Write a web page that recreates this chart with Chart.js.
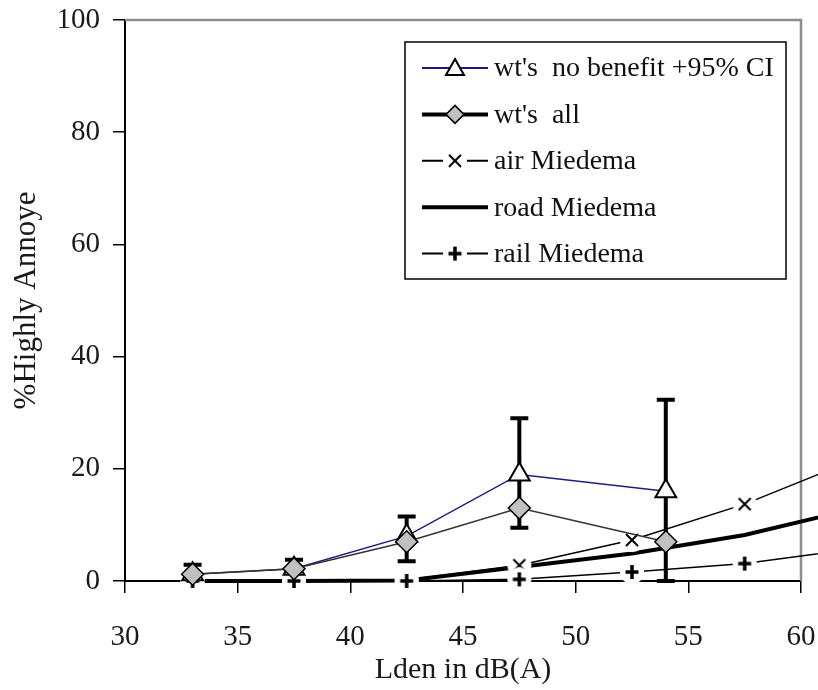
<!DOCTYPE html>
<html>
<head>
<meta charset="utf-8">
<script src="https://cdn.jsdelivr.net/npm/chart.js@4.4.1/dist/chart.umd.min.js"></script>
<style>
  html, body { margin: 0; padding: 0; background: #fff; }
</style>
</head>
<body>
<canvas id="chart" width="818" height="690"></canvas>
<script>
// values
const xWt = [33, 37.5, 42.5, 47.5, 54];
const noBenefit = [1.2, 2.2, 8, 19, 16];
const ciLow = [0, 0.8, 3.5, 9.5, 0];
const ciHigh = [2.9, 3.8, 11.5, 29, 32.3];
const wtAll = [1.2, 2.2, 7, 13, 7];

const xMiedema = [33, 37.5, 42.5, 47.5, 52.5, 57.5, 62.5];
const airMiedema = [0, 0, 0.2, 2.8, 7.3, 13.7, 21.8];
const roadMiedema = [0, 0, 0.1, 2.5, 4.9, 8.2, 13.0];
const railMiedema = [0, 0, 0, 0.3, 1.6, 3.1, 5.8];

const xTicks = [30, 35, 40, 45, 50, 55, 60];
const yTicks = [0, 20, 40, 60, 80, 100];
const legendNames = ["wt's  no benefit +95% CI", "wt's  all", "air Miedema", "road Miedema", "rail Miedema"];

const serif = "'Liberation Serif', 'Times New Roman', serif";
Chart.defaults.font.family = serif;
Chart.defaults.color = "#1a1a1a";

const pts = (xs, ys) => xs.map((x, i) => ({ x: x, y: ys[i] }));

// marker with a white patch round it, so the line breaks at the marker
function markCanvas(kind) {
  const c = document.createElement("canvas");
  c.width = 26; c.height = 26;
  const g = c.getContext("2d");
  g.fillStyle = "#fff";
  g.beginPath(); g.arc(13, 13, 12, 0, Math.PI * 2); g.fill();
  g.strokeStyle = "#000";
  g.beginPath();
  if (kind === "plus") {
    g.lineWidth = 3.5;
    g.moveTo(13, 6); g.lineTo(13, 20);
    g.moveTo(6.5, 13); g.lineTo(19.5, 13);
  } else {
    g.lineWidth = 2;
    g.moveTo(7, 7); g.lineTo(19, 19);
    g.moveTo(19, 7); g.lineTo(7, 19);
  }
  g.stroke();
  return c;
}
const crossMark = markCanvas("cross");
const plusMark = markCanvas("plus");

const extras = {
  id: "extras",
  beforeDatasetsDraw(chart) {
    const { ctx, chartArea: a, scales: { x, y } } = chart;
    ctx.save();
    // grey frame top + right
    ctx.strokeStyle = "#8c8c8c";
    ctx.lineWidth = 2.5;
    ctx.beginPath();
    ctx.moveTo(a.left, a.top); ctx.lineTo(a.right, a.top); ctx.lineTo(a.right, a.bottom);
    ctx.stroke();
    // 95% CI bars
    ctx.strokeStyle = "#000";
    ctx.lineWidth = 4;
    xWt.forEach((v, i) => {
      const px = x.getPixelForValue(v);
      const t = y.getPixelForValue(ciHigh[i]);
      const b = y.getPixelForValue(ciLow[i]);
      ctx.beginPath();
      ctx.moveTo(px, t); ctx.lineTo(px, b);
      ctx.moveTo(px - 9, t); ctx.lineTo(px + 9, t);
      ctx.moveTo(px - 9, b); ctx.lineTo(px + 9, b);
      ctx.stroke();
    });
    ctx.restore();
  },
  afterDraw(chart) {
    const ctx = chart.ctx;
    const bx = 405, by = 42, bw = 381, bh = 237;
    ctx.save();
    ctx.fillStyle = "#fff";
    ctx.fillRect(bx, by, bw, bh);
    ctx.strokeStyle = "#000";
    ctx.lineWidth = 1.5;
    ctx.strokeRect(bx, by, bw, bh);

    const x0 = 422, x1 = 488, xm = 455, tx = 494;
    legendNames.forEach((name, i) => {
      const yy = 68 + i * 46.4;
      ctx.strokeStyle = "#000";
      if (i === 0) {
        ctx.strokeStyle = "#1c1c80"; ctx.lineWidth = 2;
        ctx.beginPath(); ctx.moveTo(x0, yy); ctx.lineTo(x1, yy); ctx.stroke();
        ctx.fillStyle = "#fff"; ctx.strokeStyle = "#000"; ctx.lineWidth = 2;
        ctx.beginPath(); ctx.moveTo(xm, yy - 9); ctx.lineTo(xm + 9, yy + 7); ctx.lineTo(xm - 9, yy + 7); ctx.closePath();
        ctx.fill(); ctx.stroke();
      } else if (i === 1) {
        ctx.lineWidth = 4;
        ctx.beginPath(); ctx.moveTo(x0, yy); ctx.lineTo(x1, yy); ctx.stroke();
        ctx.fillStyle = "#c0c0c0"; ctx.lineWidth = 1.5;
        ctx.beginPath(); ctx.moveTo(xm, yy - 9); ctx.lineTo(xm + 9, yy); ctx.lineTo(xm, yy + 9); ctx.lineTo(xm - 9, yy); ctx.closePath();
        ctx.fill(); ctx.stroke();
      } else if (i === 3) {
        ctx.lineWidth = 4;
        ctx.beginPath(); ctx.moveTo(x0, yy); ctx.lineTo(x1, yy); ctx.stroke();
      } else {
        ctx.lineWidth = 2;
        ctx.beginPath(); ctx.moveTo(x0, yy); ctx.lineTo(xm - 11, yy); ctx.moveTo(xm + 11, yy); ctx.lineTo(x1, yy); ctx.stroke();
        ctx.drawImage(i === 2 ? crossMark : plusMark, xm - 13, yy - 13);
      }
      ctx.fillStyle = "#111";
      ctx.font = "28px " + serif;
      ctx.textBaseline = "middle";
      ctx.textAlign = "left";
      ctx.fillText(name, tx, yy + 1);
    });
    ctx.restore();
  }
};

new Chart(document.getElementById("chart"), {
  type: "line",
  data: {
    datasets: [
      {
        label: legendNames[1],
        data: pts(xWt, wtAll),
        borderColor: "#333",
        borderWidth: 1.5,
        pointStyle: "rectRot",
        pointRadius: 11,
        pointBackgroundColor: "#c0c0c0",
        pointBorderColor: "#000",
        pointBorderWidth: 1.5,
        clip: false
      },
      {
        label: legendNames[0],
        data: pts(xWt, noBenefit),
        borderColor: "#1c1c80",
        borderWidth: 1.5,
        pointStyle: "triangle",
        pointRadius: 12,
        pointBackgroundColor: "#fff",
        pointBorderColor: "#000",
        pointBorderWidth: 2,
        clip: false
      },
      {
        label: legendNames[4],
        data: pts(xMiedema, railMiedema),
        borderColor: "#000",
        borderWidth: 1.5,
        pointStyle: plusMark,
        clip: false
      },
      {
        label: legendNames[2],
        data: pts(xMiedema, airMiedema),
        borderColor: "#000",
        borderWidth: 1.5,
        pointStyle: crossMark,
        clip: false
      },
      {
        label: legendNames[3],
        data: pts(xMiedema, roadMiedema),
        borderColor: "#000",
        borderWidth: 4,
        pointRadius: 0,
        clip: false
      }
    ]
  },
  options: {
    responsive: false,
    devicePixelRatio: 1,
    animation: false,
    layout: { padding: { left: 0, right: 17, top: 20, bottom: 0 } },
    plugins: {
      legend: { display: false },
      tooltip: { enabled: false }
    },
    scales: {
      x: {
        type: "linear",
        min: 30,
        max: 60,
        afterBuildTicks: (s) => { s.ticks = xTicks.map((v) => ({ value: v })); },
        afterFit: (s) => {
          s.height = 109;
          s.paddingLeft = 0; s.paddingRight = 0;
        },
        ticks: { font: { size: 29 }, padding: 27, color: "#1a1a1a", maxRotation: 0 },
        grid: { drawOnChartArea: false, tickLength: 12, color: "#000", lineWidth: 1.5 },
        border: { color: "#000", width: 2 },
        title: { display: true, text: "Lden in dB(A)", font: { size: 30 }, color: "#1a1a1a", padding: { top: 0, bottom: 2 } }
      },
      y: {
        min: 0,
        max: 100,
        afterBuildTicks: (s) => { s.ticks = yTicks.map((v) => ({ value: v })); },
        afterFit: (s) => {
          s.width = 125;
          s.paddingTop = 0; s.paddingBottom = 0;
        },
        ticks: { font: { size: 29 }, padding: 13, color: "#1a1a1a" },
        grid: { drawOnChartArea: false, tickLength: 12, color: "#000", lineWidth: 1.5 },
        border: { color: "#000", width: 2 },
        title: { display: true, text: "%Highly Annoye", font: { size: 31 }, color: "#1a1a1a", padding: { top: 8, bottom: 0 } }
      }
    }
  },
  plugins: [extras]
});
</script>
</body>
</html>
